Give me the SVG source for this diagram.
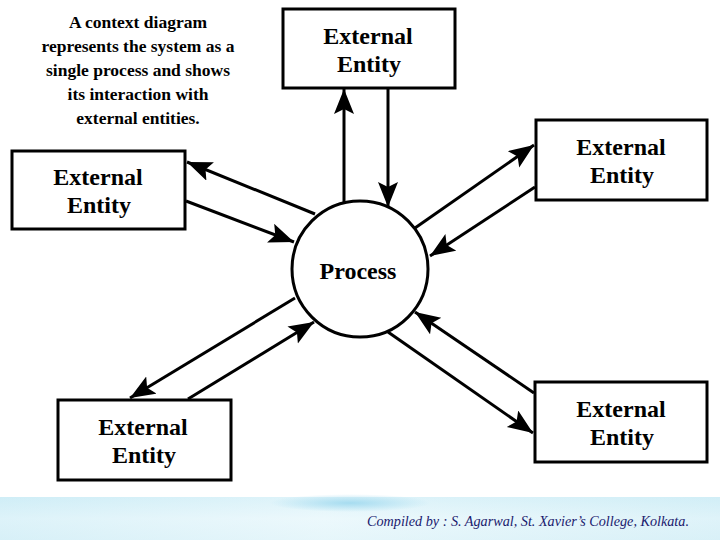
<svg xmlns="http://www.w3.org/2000/svg" width="720" height="540" viewBox="0 0 720 540" font-family="'Liberation Serif', 'DejaVu Serif', serif">
<style>
.box{fill:#fff;stroke:#000;stroke-width:3}
.lbl{font-weight:bold;font-size:24px;fill:#000;text-anchor:middle}
.note{font-weight:bold;font-size:17.5px;fill:#000;text-anchor:middle}
.con{stroke:#000;stroke-width:3;fill:none}
.foot{font-style:italic;font-size:14.2px;fill:#1a1a6e}
</style>
<defs>
<marker id="ah" markerUnits="userSpaceOnUse" markerWidth="28" markerHeight="22" refX="25" refY="10" orient="auto">
<path d="M0,0 L25,10 L0,20 L5,10 z" fill="#000"/>
</marker>
<linearGradient id="band" x1="0" y1="0" x2="0" y2="1">
<stop offset="0" stop-color="#c9ecf6"/>
<stop offset="0.5" stop-color="#e4f6fb"/>
<stop offset="1" stop-color="#d8f1f8"/>
</linearGradient>
<radialGradient id="glow" cx="0.5" cy="0.5" r="0.5">
<stop offset="0" stop-color="#a6dcf0"/>
<stop offset="1" stop-color="#a6dcf0" stop-opacity="0"/>
</radialGradient>
<linearGradient id="side" x1="0" y1="0" x2="1" y2="0">
<stop offset="0" stop-color="#d6eff7"/>
<stop offset="0.45" stop-color="#f4fbfd"/>
<stop offset="1" stop-color="#d9f0f7"/>
</linearGradient>
</defs>
<rect width="720" height="540" fill="#fff"/>
<g id="footer">
<rect x="0" y="497" width="720" height="43" fill="url(#side)"/>
<rect x="0" y="497" width="720" height="43" fill="url(#band)" opacity="0.5"/>
<ellipse cx="350" cy="503" rx="80" ry="9" fill="url(#glow)"/>
<text class="foot" x="367" y="526">Compiled by : S. Agarwal, St. Xavier’s College, Kolkata.</text>
</g>
<g id="caption">
<text class="note" x="138" y="28">A context diagram</text>
<text class="note" x="138" y="52">represents the system as a</text>
<text class="note" x="138" y="76">single process and shows</text>
<text class="note" x="138" y="100">its interaction with</text>
<text class="note" x="138" y="124">external entities.</text>
</g>
<g id="connectors">
<line class="con" x1="344" y1="207" x2="344" y2="89" marker-end="url(#ah)"/>
<line class="con" x1="388" y1="89" x2="388" y2="207" marker-end="url(#ah)"/>
<line class="con" x1="315" y1="214" x2="187" y2="162" marker-end="url(#ah)"/>
<line class="con" x1="186" y1="201" x2="294" y2="242" marker-end="url(#ah)"/>
<line class="con" x1="415" y1="228" x2="534" y2="145" marker-end="url(#ah)"/>
<line class="con" x1="535" y1="187" x2="430" y2="256" marker-end="url(#ah)"/>
<line class="con" x1="295" y1="298" x2="130" y2="398" marker-end="url(#ah)"/>
<line class="con" x1="188" y1="399" x2="314" y2="322" marker-end="url(#ah)"/>
<line class="con" x1="534" y1="393" x2="415" y2="312" marker-end="url(#ah)"/>
<line class="con" x1="388" y1="332" x2="533" y2="433" marker-end="url(#ah)"/>
</g>
<g id="process">
<circle cx="360" cy="269" r="68" fill="#fff" stroke="#000" stroke-width="3"/>
<text class="lbl" x="358" y="279">Process</text>
</g>
<g id="entity-top">
<rect class="box" x="283" y="9" width="172" height="79"/>
<text class="lbl" x="368" y="44">External</text>
<text class="lbl" x="369" y="72">Entity</text>
</g>
<g id="entity-left">
<rect class="box" x="12" y="151" width="173" height="78"/>
<text class="lbl" x="98" y="185">External</text>
<text class="lbl" x="99" y="213">Entity</text>
</g>
<g id="entity-right-top">
<rect class="box" x="536" y="120" width="171" height="80"/>
<text class="lbl" x="621" y="155">External</text>
<text class="lbl" x="622" y="183">Entity</text>
</g>
<g id="entity-bottom-left">
<rect class="box" x="58" y="400" width="173" height="80"/>
<text class="lbl" x="143" y="435">External</text>
<text class="lbl" x="144" y="463">Entity</text>
</g>
<g id="entity-bottom-right">
<rect class="box" x="535" y="382" width="172" height="80"/>
<text class="lbl" x="621" y="417">External</text>
<text class="lbl" x="622" y="445">Entity</text>
</g>
</svg>
